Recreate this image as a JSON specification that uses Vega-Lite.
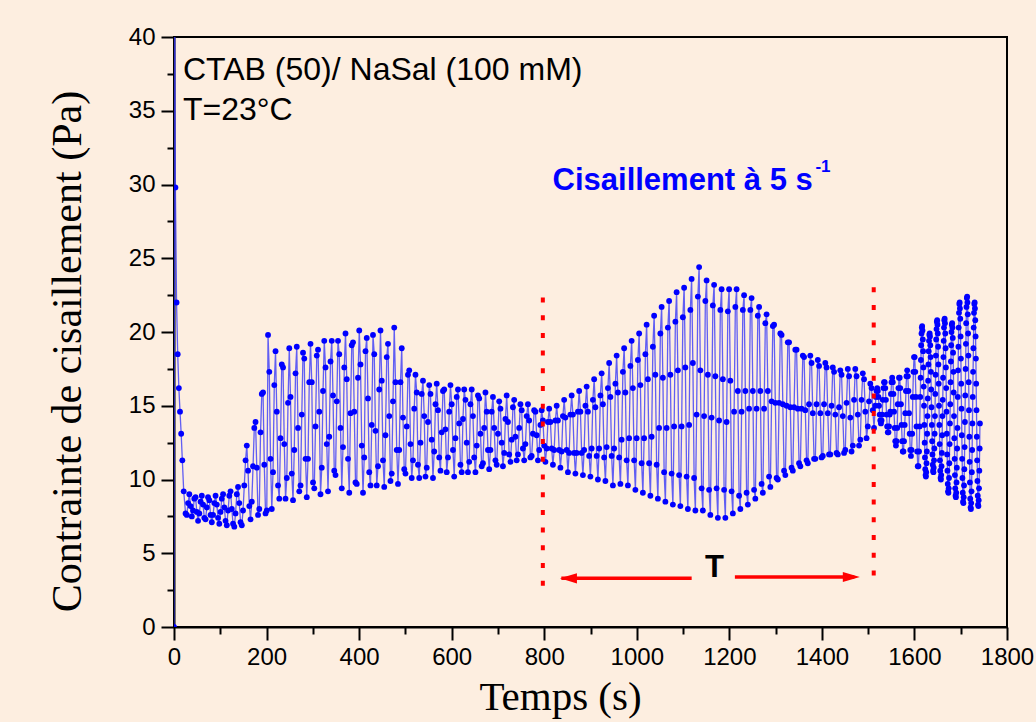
{
"$schema":"https://vega.github.io/schema/vega-lite/v6.json",
"width":833,"height":590,
"autosize":{"type":"none"},
"padding":{"left":174,"top":37,"right":29,"bottom":95},
"background":"#FDEEE0",
"config":{"view":{"stroke":"#000000","strokeWidth":2,"fill":"#FDEEE0"},"font":"Liberation Sans"},
"datasets":{"s":[
{"t":0,"v":0},{"t":1.4,"v":45},{"t":3,"v":29.8},{"t":5.5,"v":22},{"t":8,"v":18.5},{"t":10.5,"v":16.2},{"t":13,"v":14.6},{"t":15.5,"v":13.1},{"t":18,"v":11.3},{"t":21,"v":9.2},
{"t":25,"v":7.7},{"t":27.7,"v":7.6},{"t":30.4,"v":8.4},{"t":33.1,"v":9.0},{"t":35.8,"v":8.2},{"t":38.5,"v":7.5},
{"t":41.2,"v":7.9},{"t":43.9,"v":8.7},{"t":46.6,"v":8.8},{"t":49.3,"v":7.8},{"t":52,"v":7.2},{"t":54.7,"v":7.7},
{"t":57.4,"v":8.5},{"t":60.1,"v":8.9},{"t":62.8,"v":8.3},{"t":65.5,"v":7.4},{"t":68.2,"v":7.3},{"t":70.9,"v":8.1},
{"t":73.6,"v":8.8},{"t":76.3,"v":8.6},{"t":79,"v":7.6},{"t":81.7,"v":7.1},{"t":84.4,"v":7.6},{"t":87.1,"v":8.4},
{"t":89.8,"v":8.9},{"t":92.5,"v":8.3},{"t":95.2,"v":7.4},{"t":97.9,"v":7.0},{"t":100.6,"v":7.8},{"t":103.3,"v":8.7},
{"t":106,"v":9.0},{"t":108.7,"v":8.1},{"t":111.4,"v":7.2},{"t":114.1,"v":6.9},{"t":116.8,"v":7.9},{"t":119.5,"v":8.9},
{"t":122.2,"v":9.2},{"t":124.9,"v":8.0},{"t":127.6,"v":7.0},{"t":130.3,"v":6.8},{"t":133,"v":7.7},{"t":135.7,"v":9.0},
{"t":138.4,"v":9.5},{"t":141.1,"v":8.4},{"t":143.8,"v":7.1},{"t":146.5,"v":6.9},{"t":149.2,"v":7.9},{"t":151.9,"v":9.6},
{"t":154.6,"v":11.3},{"t":157.3,"v":12.3},{"t":160,"v":10.6},{"t":162.7,"v":8.2},{"t":165.4,"v":7.3},{"t":168.1,"v":8.5},
{"t":170.8,"v":10.9},{"t":173.5,"v":13.5},{"t":176.2,"v":13.9},{"t":178.9,"v":10.8},{"t":181.6,"v":7.6},{"t":184.3,"v":8.0},
{"t":187,"v":13.2},{"t":189.7,"v":15.8},{"t":192.4,"v":15.9},{"t":195.1,"v":11.0},{"t":197.8,"v":7.7},{"t":200.5,"v":7.9},
{"t":203.2,"v":19.8},{"t":205.9,"v":17.3},{"t":208.6,"v":11.4},{"t":211.3,"v":8.0},{"t":214,"v":10.5},{"t":216.7,"v":16.4},
{"t":219.4,"v":18.7},{"t":222.1,"v":14.6},{"t":224.8,"v":9.6},{"t":227.5,"v":8.7},{"t":230.2,"v":12.8},{"t":232.9,"v":17.8},
{"t":235.6,"v":17.6},{"t":238.3,"v":12.4},{"t":241,"v":8.7},{"t":243.7,"v":10.1},{"t":246.4,"v":15.2},{"t":249.1,"v":18.9},
{"t":251.8,"v":15.6},{"t":254.5,"v":10.4},{"t":257.2,"v":8.6},{"t":259.9,"v":12.0},{"t":262.6,"v":17.2},{"t":265.3,"v":19.0},
{"t":268,"v":13.5},{"t":270.7,"v":9.2},{"t":273.4,"v":9.6},{"t":276.1,"v":14.4},{"t":278.8,"v":18.6},{"t":281.5,"v":18.2},
{"t":284.2,"v":11.4},{"t":286.9,"v":8.8},{"t":289.6,"v":11.4},{"t":292.3,"v":16.6},{"t":295,"v":19.2},{"t":297.7,"v":16.6},
{"t":300.4,"v":9.8},{"t":303.1,"v":9.4},{"t":305.8,"v":13.6},{"t":308.5,"v":18.4},{"t":311.2,"v":18.8},{"t":313.9,"v":14.6},
{"t":316.6,"v":9.0},{"t":319.3,"v":10.8},{"t":322,"v":16.0},{"t":324.7,"v":19.4},{"t":327.4,"v":17.6},{"t":330.1,"v":12.4},
{"t":332.8,"v":9.2},{"t":335.5,"v":12.9},{"t":338.2,"v":18.0},{"t":340.9,"v":19.4},{"t":343.6,"v":15.7},{"t":346.3,"v":10.6},
{"t":349,"v":10.3},{"t":351.7,"v":15.3},{"t":354.4,"v":19.4},{"t":357.1,"v":18.5},{"t":359.8,"v":13.5},{"t":362.5,"v":9.4},
{"t":365.2,"v":12.2},{"t":367.9,"v":17.6},{"t":370.6,"v":19.9},{"t":373.3,"v":16.8},{"t":376,"v":11.4},{"t":378.7,"v":9.1},
{"t":381.4,"v":14.5},{"t":384.1,"v":19.1},{"t":386.8,"v":19.3},{"t":389.5,"v":14.6},{"t":392.2,"v":9.8},{"t":394.9,"v":9.7},
{"t":397.6,"v":16.9},{"t":400.3,"v":20.1},{"t":403,"v":17.8},{"t":405.7,"v":12.3},{"t":408.4,"v":9.1},{"t":411.1,"v":11.5},
{"t":413.8,"v":18.7},{"t":416.5,"v":19.6},{"t":419.2,"v":15.5},{"t":421.9,"v":10.5},{"t":424.6,"v":9.6},{"t":427.3,"v":13.7},
{"t":430,"v":19.8},{"t":432.7,"v":18.5},{"t":435.4,"v":13.3},{"t":438.1,"v":9.6},{"t":440.8,"v":10.9},{"t":443.5,"v":16.1},
{"t":446.2,"v":20.1},{"t":448.9,"v":16.7},{"t":451.6,"v":11.3},{"t":454.3,"v":9.5},{"t":457,"v":13.0},{"t":459.7,"v":18.3},
{"t":462.4,"v":19.2},{"t":465.1,"v":14.3},{"t":467.8,"v":9.9},{"t":470.5,"v":10.4},{"t":473.2,"v":15.3},{"t":475.9,"v":20.3},
{"t":478.6,"v":16.6},{"t":481.3,"v":12.0},{"t":484,"v":9.7},{"t":486.7,"v":12.0},{"t":489.4,"v":16.6},{"t":492.1,"v":18.9},
{"t":494.8,"v":14.2},{"t":497.5,"v":10.7},{"t":500.2,"v":10.4},{"t":502.9,"v":13.6},{"t":505.6,"v":17.1},{"t":508.3,"v":17.4},
{"t":511,"v":12.4},{"t":513.7,"v":10.1},{"t":516.4,"v":11.3},{"t":519.1,"v":14.8},{"t":521.8,"v":17.1},{"t":524.5,"v":15.9},
{"t":527.2,"v":11.0},{"t":529.9,"v":10.1},{"t":532.6,"v":12.5},{"t":535.3,"v":15.8},{"t":538,"v":16.7},{"t":540.7,"v":14.3},
{"t":543.4,"v":10.2},{"t":546.1,"v":10.8},{"t":548.8,"v":13.9},{"t":551.5,"v":16.4},{"t":554.2,"v":15.8},{"t":556.9,"v":12.7},
{"t":559.6,"v":10.1},{"t":562.3,"v":11.9},{"t":565,"v":15.1},{"t":567.7,"v":16.5},{"t":570.4,"v":14.7},{"t":573.1,"v":11.5},
{"t":575.8,"v":10.6},{"t":578.5,"v":13.2},{"t":581.2,"v":16.0},{"t":583.9,"v":16.1},{"t":586.6,"v":13.4},{"t":589.3,"v":10.5},
{"t":592,"v":11.5},{"t":594.7,"v":14.6},{"t":597.4,"v":16.4},{"t":600.1,"v":15.1},{"t":602.8,"v":12.0},{"t":605.5,"v":10.2},
{"t":608.2,"v":12.8},{"t":610.9,"v":15.6},{"t":613.6,"v":16.1},{"t":616.3,"v":13.8},{"t":619,"v":11.0},{"t":621.7,"v":10.5},
{"t":624.4,"v":14.1},{"t":627.1,"v":16.1},{"t":629.8,"v":15.4},{"t":632.5,"v":12.5},{"t":635.2,"v":10.5},{"t":637.9,"v":11.2},
{"t":640.6,"v":15.1},{"t":643.3,"v":16.1},{"t":646,"v":14.3},{"t":648.7,"v":11.5},{"t":651.4,"v":10.5},{"t":654.1,"v":12.3},
{"t":656.8,"v":15.7},{"t":659.5,"v":15.5},{"t":662.2,"v":13.1},{"t":664.9,"v":10.9},{"t":667.6,"v":11.1},{"t":670.3,"v":13.5},
{"t":673,"v":15.9},{"t":675.7,"v":14.6},{"t":678.4,"v":12.0},{"t":681.1,"v":10.7},{"t":683.8,"v":12.0},{"t":686.5,"v":14.6},
{"t":689.2,"v":15.6},{"t":691.9,"v":13.5},{"t":694.6,"v":11.3},{"t":697.3,"v":11.0},{"t":700,"v":13.1},{"t":702.7,"v":15.3},
{"t":705.4,"v":14.8},{"t":708.1,"v":12.5},{"t":710.8,"v":10.9},{"t":713.5,"v":11.8},{"t":716.2,"v":14.1},{"t":718.9,"v":15.7},
{"t":721.6,"v":13.9},{"t":724.3,"v":11.7},{"t":727,"v":11.2},{"t":729.7,"v":12.7},{"t":732.4,"v":14.9},{"t":735.1,"v":15.4},
{"t":737.8,"v":12.9},{"t":740.5,"v":11.3},{"t":743.2,"v":11.7},{"t":745.9,"v":13.5},{"t":748.6,"v":15.1},{"t":751.3,"v":14.7},
{"t":754,"v":12.1},{"t":756.7,"v":11.3},{"t":759.4,"v":12.4},{"t":762.1,"v":14.3},{"t":764.8,"v":15.1},{"t":767.5,"v":14.0},
{"t":770.2,"v":11.5},{"t":772.9,"v":11.6},{"t":775.6,"v":13.1},{"t":778.3,"v":14.7},{"t":781,"v":14.6},{"t":783.7,"v":13.0},
{"t":786.4,"v":11.3},{"t":789.1,"v":12.0},{"t":791.8,"v":13.7},{"t":794.5,"v":14.7},{"t":797.2,"v":14.0},{"t":799.9,"v":12.3},
{"t":802.6,"v":11.2},{"t":805.3,"v":12.1},{"t":808,"v":13.9},{"t":810.7,"v":14.8},{"t":813.4,"v":13.9},{"t":816.1,"v":12.1},
{"t":818.8,"v":11.0},{"t":821.5,"v":12.0},{"t":824.2,"v":14.0},{"t":826.9,"v":15.0},{"t":829.6,"v":14.0},{"t":832.3,"v":12.0},
{"t":835,"v":10.8},{"t":837.7,"v":11.9},{"t":840.4,"v":14.3},{"t":843.1,"v":15.4},{"t":845.8,"v":14.2},{"t":848.5,"v":12.0},
{"t":851.2,"v":10.5},{"t":853.9,"v":11.8},{"t":856.6,"v":14.4},{"t":859.3,"v":15.7},{"t":862,"v":14.4},{"t":864.7,"v":11.8},
{"t":867.4,"v":10.4},{"t":870.1,"v":11.8},{"t":872.8,"v":14.6},{"t":875.5,"v":16.0},{"t":878.2,"v":14.6},{"t":880.9,"v":11.8},
{"t":883.6,"v":10.3},{"t":886.3,"v":12.0},{"t":889,"v":15.0},{"t":891.7,"v":16.3},{"t":894.4,"v":14.6},{"t":897.1,"v":11.6},
{"t":899.8,"v":10.2},{"t":902.5,"v":12.1},{"t":905.2,"v":15.4},{"t":907.9,"v":16.8},{"t":910.6,"v":14.9},{"t":913.3,"v":11.6},
{"t":916,"v":10.0},{"t":918.7,"v":12.1},{"t":921.4,"v":15.7},{"t":924.1,"v":17.2},{"t":926.8,"v":15.1},{"t":929.5,"v":11.5},
{"t":932.2,"v":9.9},{"t":934.9,"v":12.2},{"t":937.6,"v":16.2},{"t":940.3,"v":17.9},{"t":943,"v":15.6},{"t":945.7,"v":11.6},
{"t":948.4,"v":9.6},{"t":951.1,"v":12.1},{"t":953.8,"v":16.5},{"t":956.5,"v":18.4},{"t":959.2,"v":15.9},{"t":961.9,"v":11.5},
{"t":964.6,"v":9.7},{"t":967.3,"v":12.7},{"t":970,"v":17.3},{"t":972.7,"v":18.9},{"t":975.4,"v":15.9},{"t":978.1,"v":11.3},
{"t":980.8,"v":9.6},{"t":983.5,"v":12.8},{"t":986.2,"v":17.7},{"t":988.9,"v":19.4},{"t":991.6,"v":16.2},{"t":994.3,"v":11.3},
{"t":997,"v":9.3},{"t":999.7,"v":12.8},{"t":1002.4,"v":18.1},{"t":1005.1,"v":19.9},{"t":1007.8,"v":16.4},{"t":1010.5,"v":11.1},
{"t":1013.2,"v":9.1},{"t":1015.9,"v":12.8},{"t":1018.6,"v":18.5},{"t":1021.3,"v":20.5},{"t":1024,"v":16.8},{"t":1026.7,"v":11.1},
{"t":1029.4,"v":8.9},{"t":1032.1,"v":12.9},{"t":1034.8,"v":19.0},{"t":1037.5,"v":21.1},{"t":1040.2,"v":17.1},{"t":1042.9,"v":11.0},
{"t":1045.6,"v":8.7},{"t":1048.3,"v":13.5},{"t":1051,"v":19.9},{"t":1053.7,"v":21.7},{"t":1056.4,"v":16.9},{"t":1059.1,"v":10.5},
{"t":1061.8,"v":8.5},{"t":1064.5,"v":13.5},{"t":1067.2,"v":20.3},{"t":1069.9,"v":22.1},{"t":1072.6,"v":17.1},{"t":1075.3,"v":10.4},
{"t":1078,"v":8.3},{"t":1080.7,"v":13.6},{"t":1083.4,"v":20.7},{"t":1086.1,"v":22.7},{"t":1088.8,"v":17.4},{"t":1091.5,"v":10.3},
{"t":1094.2,"v":8.2},{"t":1096.9,"v":13.6},{"t":1099.6,"v":21.0},{"t":1102.3,"v":23.0},{"t":1105,"v":17.6},{"t":1107.7,"v":10.2},
{"t":1110.4,"v":8.0},{"t":1113.1,"v":13.7},{"t":1115.8,"v":21.5},{"t":1118.5,"v":23.6},{"t":1121.2,"v":17.9},{"t":1123.9,"v":10.1},
{"t":1126.6,"v":7.9},{"t":1129.3,"v":14.4},{"t":1132,"v":22.4},{"t":1134.7,"v":24.4},{"t":1137.4,"v":17.4},{"t":1140.1,"v":9.4},
{"t":1142.8,"v":7.9},{"t":1145.5,"v":14.3},{"t":1148.2,"v":22.1},{"t":1150.9,"v":23.5},{"t":1153.6,"v":17.1},{"t":1156.3,"v":9.3},
{"t":1159,"v":7.6},{"t":1161.7,"v":14.2},{"t":1164.4,"v":21.8},{"t":1167.1,"v":23.2},{"t":1169.8,"v":17.0},{"t":1172.5,"v":9.4},
{"t":1175.2,"v":7.4},{"t":1177.9,"v":14.0},{"t":1180.6,"v":21.5},{"t":1183.3,"v":22.9},{"t":1186,"v":16.8},{"t":1188.7,"v":9.3},
{"t":1191.4,"v":7.4},{"t":1194.1,"v":13.9},{"t":1196.8,"v":21.4},{"t":1199.5,"v":22.9},{"t":1202.2,"v":16.7},{"t":1204.9,"v":9.2},
{"t":1207.6,"v":7.7},{"t":1210.3,"v":14.6},{"t":1213,"v":21.7},{"t":1215.7,"v":22.9},{"t":1218.4,"v":16.0},{"t":1221.1,"v":8.9},
{"t":1223.8,"v":8.0},{"t":1226.5,"v":14.6},{"t":1229.2,"v":21.5},{"t":1231.9,"v":22.5},{"t":1234.6,"v":16.0},{"t":1237.3,"v":9.1},
{"t":1240,"v":8.3},{"t":1242.7,"v":14.8},{"t":1245.4,"v":21.5},{"t":1248.1,"v":22.3},{"t":1250.8,"v":16.0},{"t":1253.5,"v":9.3},
{"t":1256.2,"v":8.7},{"t":1258.9,"v":14.8},{"t":1261.6,"v":21.1},{"t":1264.3,"v":21.7},{"t":1267,"v":16.0},{"t":1269.7,"v":9.7},
{"t":1272.4,"v":9.1},{"t":1275.1,"v":14.8},{"t":1277.8,"v":20.6},{"t":1280.5,"v":21.2},{"t":1283.2,"v":16.0},{"t":1285.9,"v":10.2},
{"t":1288.6,"v":9.5},{"t":1291.3,"v":15.3},{"t":1294,"v":20.4},{"t":1296.7,"v":20.5},{"t":1299.4,"v":15.2},{"t":1302.1,"v":10.1},
{"t":1304.8,"v":10.0},{"t":1307.5,"v":15.2},{"t":1310.2,"v":19.9},{"t":1312.9,"v":19.8},{"t":1315.6,"v":15.1},{"t":1318.3,"v":10.6},
{"t":1321,"v":10.3},{"t":1323.7,"v":15.0},{"t":1326.4,"v":19.3},{"t":1329.1,"v":19.3},{"t":1331.8,"v":14.9},{"t":1334.5,"v":10.8},
{"t":1337.2,"v":10.6},{"t":1339.9,"v":14.9},{"t":1342.6,"v":18.8},{"t":1345.3,"v":18.8},{"t":1348,"v":14.8},{"t":1350.7,"v":11.1},
{"t":1353.4,"v":10.9},{"t":1356.1,"v":14.8},{"t":1358.8,"v":18.4},{"t":1361.5,"v":18.3},{"t":1364.2,"v":14.7},{"t":1366.9,"v":11.3},
{"t":1369.6,"v":11.1},{"t":1372.3,"v":15.1},{"t":1375,"v":18.4},{"t":1377.7,"v":17.9},{"t":1380.4,"v":14.5},{"t":1383.1,"v":11.4},
{"t":1385.8,"v":11.4},{"t":1388.5,"v":15.1},{"t":1391.2,"v":18.1},{"t":1393.9,"v":17.7},{"t":1396.6,"v":14.5},{"t":1399.3,"v":11.5},
{"t":1402,"v":11.6},{"t":1404.7,"v":15.1},{"t":1407.4,"v":17.9},{"t":1410.1,"v":17.6},{"t":1412.8,"v":14.5},{"t":1415.5,"v":11.7},
{"t":1418.2,"v":11.7},{"t":1420.9,"v":15.0},{"t":1423.6,"v":17.6},{"t":1426.3,"v":17.3},{"t":1429,"v":14.4},{"t":1431.7,"v":11.8},
{"t":1434.4,"v":11.7},{"t":1437.1,"v":14.9},{"t":1439.8,"v":17.4},{"t":1442.5,"v":17.1},{"t":1445.2,"v":14.3},{"t":1447.9,"v":11.8},
{"t":1450.6,"v":12.0},{"t":1453.3,"v":15.2},{"t":1456,"v":17.5},{"t":1458.7,"v":17.0},{"t":1461.4,"v":14.2},{"t":1464.1,"v":11.9},
{"t":1466.8,"v":12.3},{"t":1469.5,"v":15.4},{"t":1472.2,"v":17.5},{"t":1474.9,"v":17.0},{"t":1477.6,"v":14.4},{"t":1480.3,"v":12.3},
{"t":1483,"v":12.7},{"t":1485.7,"v":15.4},{"t":1488.4,"v":17.2},{"t":1491.1,"v":16.8},{"t":1493.8,"v":14.6},{"t":1496.5,"v":12.8},
{"t":1499.2,"v":13.6},{"t":1501.9,"v":15.3},{"t":1504.6,"v":16.5},{"t":1507.3,"v":16.2},{"t":1510,"v":14.7},{"t":1512.7,"v":13.5},
{"t":1515.4,"v":15.0},{"t":1516.8,"v":15.6},{"t":1518.1,"v":16.0},{"t":1519.5,"v":16.2},{"t":1520.8,"v":16.0},{"t":1522.2,"v":15.6},{"t":1523.5,"v":15.0},{"t":1524.9,"v":14.4},{"t":1526.2,"v":14.0},{"t":1527.6,"v":13.8},{"t":1528.9,"v":14.0},{"t":1530.3,"v":14.4},
{"t":1531.6,"v":15.4},{"t":1533.0,"v":16.2},{"t":1534.3,"v":16.6},{"t":1535.7,"v":16.6},{"t":1537.0,"v":16.2},{"t":1538.4,"v":15.4},{"t":1539.7,"v":14.4},{"t":1541.1,"v":13.6},{"t":1542.4,"v":13.2},{"t":1543.8,"v":13.2},{"t":1545.1,"v":13.6},{"t":1546.5,"v":14.4},
{"t":1547.8,"v":14.6},{"t":1549.2,"v":15.8},{"t":1550.5,"v":16.6},{"t":1551.9,"v":16.9},{"t":1553.2,"v":16.6},{"t":1554.6,"v":15.8},{"t":1555.9,"v":14.6},{"t":1557.3,"v":13.5},{"t":1558.6,"v":12.6},{"t":1560.0,"v":12.3},{"t":1561.3,"v":12.6},{"t":1562.7,"v":13.5},
{"t":1564.0,"v":15.1},{"t":1565.4,"v":16.2},{"t":1566.7,"v":16.9},{"t":1568.1,"v":16.9},{"t":1569.4,"v":16.2},{"t":1570.8,"v":15.1},{"t":1572.1,"v":13.7},{"t":1573.5,"v":12.6},{"t":1574.8,"v":11.9},{"t":1576.2,"v":11.9},{"t":1577.5,"v":12.6},{"t":1578.9,"v":13.7},
{"t":1580.2,"v":14.5},{"t":1581.6,"v":16.0},{"t":1582.9,"v":17.0},{"t":1584.3,"v":17.4},{"t":1585.6,"v":17.0},{"t":1587.0,"v":16.0},{"t":1588.3,"v":14.5},{"t":1589.7,"v":13.1},{"t":1591.0,"v":12.0},{"t":1592.4,"v":11.6},{"t":1593.7,"v":12.0},{"t":1595.1,"v":13.1},
{"t":1596.4,"v":15.6},{"t":1597.8,"v":17.3},{"t":1599.1,"v":18.3},{"t":1600.5,"v":18.3},{"t":1601.8,"v":17.3},{"t":1603.2,"v":15.6},{"t":1604.5,"v":13.6},{"t":1605.9,"v":11.9},{"t":1607.2,"v":10.9},{"t":1608.6,"v":10.9},{"t":1609.9,"v":11.9},{"t":1611.3,"v":13.6},
{"t":1612.6,"v":15.6},{"t":1613.3,"v":16.9},{"t":1614.0,"v":18.1},{"t":1614.6,"v":19.1},{"t":1615.3,"v":19.9},{"t":1616.0,"v":20.3},{"t":1616.7,"v":20.4},{"t":1617.3,"v":20.1},{"t":1618.0,"v":19.5},{"t":1618.7,"v":18.7},{"t":1619.4,"v":17.6},{"t":1620.0,"v":16.3},{"t":1620.7,"v":15.0},{"t":1621.4,"v":13.7},{"t":1622.1,"v":12.5},{"t":1622.7,"v":11.5},{"t":1623.4,"v":10.7},{"t":1624.1,"v":10.3},{"t":1624.8,"v":10.2},{"t":1625.4,"v":10.5},{"t":1626.1,"v":11.1},{"t":1626.8,"v":11.9},{"t":1627.5,"v":13.1},{"t":1628.1,"v":14.3},
{"t":1628.8,"v":15.5},{"t":1629.5,"v":16.7},{"t":1630.2,"v":17.8},{"t":1630.8,"v":18.7},{"t":1631.5,"v":19.4},{"t":1632.2,"v":19.8},{"t":1632.9,"v":19.9},{"t":1633.5,"v":19.7},{"t":1634.2,"v":19.1},{"t":1634.9,"v":18.3},{"t":1635.6,"v":17.3},{"t":1636.2,"v":16.1},{"t":1636.9,"v":14.9},{"t":1637.6,"v":13.7},{"t":1638.3,"v":12.6},{"t":1638.9,"v":11.7},{"t":1639.6,"v":11.0},{"t":1640.3,"v":10.6},{"t":1641.0,"v":10.5},{"t":1641.6,"v":10.8},{"t":1642.3,"v":11.3},{"t":1643.0,"v":12.1},{"t":1643.7,"v":13.1},{"t":1644.3,"v":14.3},
{"t":1645.0,"v":15.8},{"t":1645.7,"v":17.1},{"t":1646.4,"v":18.4},{"t":1647.0,"v":19.5},{"t":1647.7,"v":20.2},{"t":1648.4,"v":20.7},{"t":1649.1,"v":20.8},{"t":1649.7,"v":20.5},{"t":1650.4,"v":19.9},{"t":1651.1,"v":19.0},{"t":1651.8,"v":17.8},{"t":1652.4,"v":16.5},{"t":1653.1,"v":15.0},{"t":1653.8,"v":13.7},{"t":1654.5,"v":12.4},{"t":1655.1,"v":11.3},{"t":1655.8,"v":10.6},{"t":1656.5,"v":10.1},{"t":1657.2,"v":10.0},{"t":1657.8,"v":10.3},{"t":1658.5,"v":10.9},{"t":1659.2,"v":11.8},{"t":1659.9,"v":13.0},{"t":1660.5,"v":14.3},
{"t":1661.2,"v":15.4},{"t":1661.9,"v":16.9},{"t":1662.6,"v":18.3},{"t":1663.2,"v":19.4},{"t":1663.9,"v":20.3},{"t":1664.6,"v":20.8},{"t":1665.3,"v":20.9},{"t":1665.9,"v":20.6},{"t":1666.6,"v":19.9},{"t":1667.3,"v":18.9},{"t":1668.0,"v":17.6},{"t":1668.6,"v":16.2},{"t":1669.3,"v":14.6},{"t":1670.0,"v":13.1},{"t":1670.7,"v":11.7},{"t":1671.3,"v":10.6},{"t":1672.0,"v":9.7},{"t":1672.7,"v":9.2},{"t":1673.4,"v":9.1},{"t":1674.0,"v":9.4},{"t":1674.7,"v":10.1},{"t":1675.4,"v":11.1},{"t":1676.1,"v":12.4},{"t":1676.7,"v":13.8},
{"t":1677.4,"v":15.1},{"t":1678.1,"v":16.6},{"t":1678.8,"v":18.0},{"t":1679.4,"v":19.1},{"t":1680.1,"v":20.0},{"t":1680.8,"v":20.5},{"t":1681.5,"v":20.6},{"t":1682.1,"v":20.3},{"t":1682.8,"v":19.6},{"t":1683.5,"v":18.6},{"t":1684.2,"v":17.3},{"t":1684.8,"v":15.9},{"t":1685.5,"v":14.3},{"t":1686.2,"v":12.8},{"t":1686.9,"v":11.4},{"t":1687.5,"v":10.3},{"t":1688.2,"v":9.4},{"t":1688.9,"v":8.9},{"t":1689.6,"v":8.8},{"t":1690.2,"v":9.1},{"t":1690.9,"v":9.8},{"t":1691.6,"v":10.8},{"t":1692.3,"v":12.1},{"t":1692.9,"v":13.5},
{"t":1693.6,"v":15.6},{"t":1694.3,"v":17.4},{"t":1695.0,"v":19.0},{"t":1695.6,"v":20.3},{"t":1696.3,"v":21.3},{"t":1697.0,"v":21.9},{"t":1697.7,"v":22.0},{"t":1698.3,"v":21.6},{"t":1699.0,"v":20.9},{"t":1699.7,"v":19.7},{"t":1700.4,"v":18.2},{"t":1701.0,"v":16.5},{"t":1701.7,"v":14.8},{"t":1702.4,"v":13.0},{"t":1703.1,"v":11.4},{"t":1703.7,"v":10.1},{"t":1704.4,"v":9.1},{"t":1705.1,"v":8.5},{"t":1705.8,"v":8.4},{"t":1706.4,"v":8.8},{"t":1707.1,"v":9.6},{"t":1707.8,"v":10.7},{"t":1708.5,"v":12.2},{"t":1709.1,"v":13.9},
{"t":1709.8,"v":15.7},{"t":1710.5,"v":17.5},{"t":1711.2,"v":19.2},{"t":1711.8,"v":20.6},{"t":1712.5,"v":21.7},{"t":1713.2,"v":22.3},{"t":1713.9,"v":22.4},{"t":1714.5,"v":22.0},{"t":1715.2,"v":21.2},{"t":1715.9,"v":19.9},{"t":1716.6,"v":18.4},{"t":1717.2,"v":16.6},{"t":1717.9,"v":14.7},{"t":1718.6,"v":12.9},{"t":1719.3,"v":11.2},{"t":1719.9,"v":9.8},{"t":1720.6,"v":8.7},{"t":1721.3,"v":8.1},{"t":1722.0,"v":8.0},{"t":1722.6,"v":8.4},{"t":1723.3,"v":9.2},{"t":1724.0,"v":10.5},{"t":1724.7,"v":12.0},{"t":1725.3,"v":13.8},
{"t":1726.0,"v":15.6},{"t":1726.7,"v":17.3},{"t":1727.4,"v":18.9},{"t":1728.0,"v":20.3},{"t":1728.7,"v":21.3},{"t":1729.4,"v":21.9},{"t":1730.1,"v":22.0},{"t":1730.7,"v":21.6},{"t":1731.4,"v":20.8},{"t":1732.1,"v":19.7},{"t":1732.8,"v":18.2},{"t":1733.4,"v":16.5},{"t":1734.1,"v":14.7},{"t":1734.8,"v":12.9},{"t":1735.5,"v":11.3},{"t":1736.1,"v":9.9},{"t":1736.8,"v":8.9},{"t":1737.5,"v":8.3},{"t":1738.2,"v":8.2},{"t":1738.8,"v":8.6},{"t":1739.5,"v":9.4},{"t":1740.2,"v":10.6},{"t":1740.9,"v":12.1},{"t":1741.5,"v":13.8}
]},
"encoding":{
"x":{"field":"t","type":"quantitative","scale":{"domain":[0,1800],"nice":false,"zero":false},
"axis":{"values":[0,100,200,300,400,500,600,700,800,900,1000,1100,1200,1300,1400,1500,1600,1700,1800],
"labelExpr":"datum.value % 200 === 0 ? '' + datum.value : ''",
"tickSize":{"condition":{"test":"datum.value % 200 !== 0","value":7},"value":13},
"grid":false,"domainColor":"#000000","domainWidth":2,"tickColor":"#000000","tickWidth":2,
"labelFont":"Liberation Sans","labelFontSize":24,"labelColor":"#000000","labelPadding":5,"labelFlush":false,"labelOverlap":false,"labelBound":false,
"title":"Temps (s)","titleFont":"Liberation Serif","titleFontSize":41,"titleFontWeight":"normal","titleColor":"#000000",
"titleX":386,"titleY":82,"titleAlign":"center","titleBaseline":"alphabetic"}},
"y":{"field":"v","type":"quantitative","scale":{"domain":[0,40],"nice":false,"zero":false},
"axis":{"values":[0,2.5,5,7.5,10,12.5,15,17.5,20,22.5,25,27.5,30,32.5,35,37.5,40],
"labelExpr":"datum.value % 5 === 0 ? '' + datum.value : ''",
"tickSize":{"condition":{"test":"datum.value % 5 !== 0","value":7},"value":13},
"grid":false,"domainColor":"#000000","domainWidth":2,"tickColor":"#000000","tickWidth":2,
"labelFont":"Liberation Sans","labelFontSize":24,"labelColor":"#000000","labelPadding":6,"labelFlush":false,"labelOverlap":false,"labelBound":false,
"title":"Contrainte de cisaillement (Pa)","titleFont":"Liberation Serif","titleFontSize":42,"titleFontWeight":"normal","titleColor":"#000000",
"titleX":-107,"titleY":314,"titleAngle":-90,"titleAlign":"center","titleBaseline":"middle"}}
},
"layer":[
{"data":{"name":"s"},"mark":{"type":"line","color":"#3a3af8","strokeWidth":1.3,"opacity":0.8,"clip":true}},
{"data":{"name":"s"},"mark":{"type":"point","filled":true,"color":"#0000ff","size":34,"opacity":1,"clip":true}},
{"data":{"values":[{"t":797,"v":2.8,"v2":22.6},{"t":1512,"v":3.5,"v2":23.2}]},
 "mark":{"type":"rule","color":"#ff0000","strokeWidth":4,"strokeDash":[5,12.7]},
 "encoding":{"y2":{"field":"v2"}}},
{"data":{"values":[{"t":837,"t2":1118.6,"v":3.3},{"t":1212,"t2":1470,"v":3.39}]},
 "mark":{"type":"rule","color":"#ff0000","strokeWidth":3.5},
 "encoding":{"x2":{"field":"t2"}}},
{"data":{"values":[{"t":834,"v":3.3,"dir":"l"},{"t":1482,"v":3.39,"dir":"r"}]},
 "mark":{"type":"point","filled":true,"color":"#ff0000","size":289,"opacity":1,"strokeWidth":0},
 "encoding":{"shape":{"field":"dir","type":"nominal","scale":{"domain":["l","r"],"range":["M 0 0 L 2 -0.6 L 2 0.6 Z","M 0 0 L -2 -0.6 L -2 0.6 Z"]},"legend":null}}},
{"data":{"values":[{"t":19.4,"v":37.1,"label":"CTAB (50)/ NaSal (100 mM)"},{"t":19.4,"v":34.35,"label":"T=23°C"}]},
 "mark":{"type":"text","align":"left","baseline":"alphabetic","font":"Liberation Sans","fontSize":32,"color":"#000000"},
 "encoding":{"text":{"field":"label"}}},
{"data":{"values":[{"t":818,"v":29.65,"label":"Cisaillement à 5 s"}]},
 "mark":{"type":"text","align":"left","baseline":"alphabetic","font":"Liberation Sans","fontSize":31,"fontWeight":"bold","color":"#0000ff"},
 "encoding":{"text":{"field":"label"}}},
{"data":{"values":[{"t":1386,"v":30.85,"label":"-1"}]},
 "mark":{"type":"text","align":"left","baseline":"alphabetic","font":"Liberation Sans","fontSize":17,"fontWeight":"bold","color":"#0000ff"},
 "encoding":{"text":{"field":"label"}}},
{"data":{"values":[{"t":1168,"v":3.39,"label":"T"}]},
 "mark":{"type":"text","align":"center","baseline":"alphabetic","font":"Liberation Sans","fontSize":31,"fontWeight":"bold","color":"#000000"},
 "encoding":{"text":{"field":"label"}}}
]
}
